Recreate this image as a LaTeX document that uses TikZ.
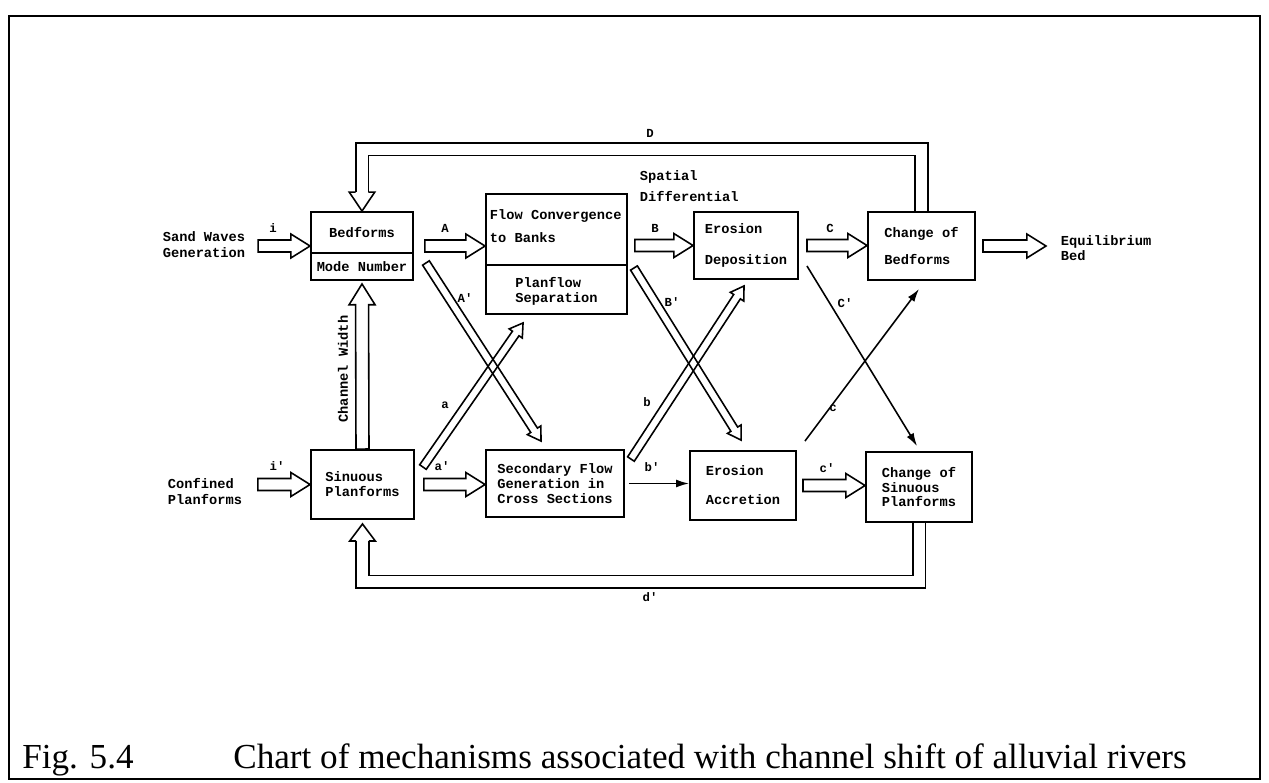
\documentclass[tikz,border=0pt]{standalone}
\usepackage{fontspec}
\setmainfont{Liberation Serif}
\setmonofont{Liberation Mono}
\usetikzlibrary{arrows.meta,calc}

\newcommand\chartfont{\ttfamily\bfseries\fontsize{7.8}{8.5}\selectfont}
\newcommand\tagfont{\ttfamily\bfseries\fontsize{7}{8}\selectfont}
\newcommand\figfont{\fontsize{20}{24}\selectfont}

% wide open arrow from #2 to #3, #1 = half width of the shaft
\newcommand\hollowarrow[3][1.2mm]{%
  \path (#2) coordinate (ha0) (#3) coordinate (ha1);
  \path ($(ha1)!{3.2*#1}!(ha0)$) coordinate (hab);
  \draw[hollow] ($(ha0)!#1!90:(ha1)$) -- ($(hab)!#1!-90:(ha0)$)
    -- ($(hab)!{2*#1}!-90:(ha0)$) -- (ha1) -- ($(hab)!{2*#1}!90:(ha0)$)
    -- ($(hab)!#1!90:(ha0)$) -- ($(ha0)!#1!-90:(ha1)$) -- cycle;
}

\begin{document}
\begin{tikzpicture}
[ x=0.02cm, y=-0.02cm, line join=miter
, box/.style={rectangle, draw, line width=1.1pt, align=left, inner sep=0pt, font=\chartfont}
, txt/.style={align=left, font=\chartfont, inner sep=2.6pt}
, tag/.style={font=\tagfont, inner sep=1pt}
, hollow/.style={draw, line width=0.9pt}
, feedback/.style={draw, double, line width=0.9pt, double distance=2.2mm}
, thinarrow/.style={line width=0.9pt, -{Latex[length=2.6mm,width=1.6mm]}}
]
\useasboundingbox (0,0) rectangle (1269,782);
\draw[line width=1.4pt] (9,16) rectangle (1260,779);

% upper row
\node[box, minimum width=2.04cm, minimum height=1.36cm] (bed) at (362,246) {};
\node[box, minimum width=2.82cm, minimum height=2.4cm] (flow) at (556.5,254) {};
\node[box, minimum width=2.08cm, minimum height=1.34cm] (edp) at (746,245.5) {Erosion\\[9pt]Deposition};
\node[box, minimum width=2.14cm, minimum height=1.36cm] (chb) at (921.5,246) {Change of\\[6.5pt]Bedforms};
\draw[line width=1.1pt] ($(bed.north west)!0.6!(bed.south west)$) -- ($(bed.north east)!0.6!(bed.south east)$);
\draw[line width=1.1pt] ($(flow.north west)!0.59!(flow.south west)$) -- ($(flow.north east)!0.59!(flow.south east)$);
\node[txt] (bedup) at ($(bed.north)!0.3!(bed.south)$) {Bedforms};
\node[txt] (bedlow) at ($(bed.north)!0.8!(bed.south)$) {Mode Number};
\node[txt, anchor=west] (flowup) at ($(flow.north west)!0.27!(flow.south west)$) {Flow Convergence\\[4.5pt]to Banks};
\node[txt] (flowlow) at ($(flow.north)!0.81!(flow.south)$) {Planflow\\Separation};

% lower row
\node[box, minimum width=2.06cm, minimum height=1.38cm] (sin) at (362.5,484.5) {Sinuous\\Planforms};
\node[box, minimum width=2.76cm, minimum height=1.34cm] (sec) at (555,483.5) {Secondary Flow\\Generation in\\Cross Sections};
\node[box, minimum width=2.12cm, minimum height=1.38cm] (eac) at (743,485.5) {Erosion\\[8pt]Accretion};
\node[box, minimum width=2.12cm, minimum height=1.4cm] (chs) at (919,487) {Change of\\Sinuous\\Planforms};

% free texts
\node[txt] (sand) at (204,245) {Sand Waves\\[0.6pt]Generation};
\node[txt] (conf) at (205,491) {Confined\\[0.6pt]Planforms};
\node[txt, anchor=west] (eqb) at (1056,248) {Equilibrium\\Bed};
\node[txt, anchor=west] (spatial) at (635,186.5) {Spatial\\[3.5pt]Differential};
\node[txt, rotate=90] (chw) at (343,369) {Channel Width};

% horizontal arrows
\hollowarrow{[shift={(8,0)}]sand.east |- bed.west}{bed.west}
\hollowarrow{[shift={(11,0)}]bed.east}{flow.west |- bed.east}
\hollowarrow{[shift={(7,0)}]flow.east |- edp.west}{edp.west}
\hollowarrow{[shift={(8,0)}]edp.east}{chb.west |- edp.east}
\hollowarrow{[shift={(7,0)}]chb.east}{[shift={(-10,0)}]eqb.west |- chb.east}
\hollowarrow{[shift={(11,0)}]conf.east |- sin.west}{sin.west}
\hollowarrow{[shift={(9,0)}]sin.east}{sec.west |- sin.east}
\draw[thinarrow] ([shift={(4,0)}]sec.east) -- (eac.west |- sec.east);
\hollowarrow{[shift={(6,0)}]eac.east}{chs.west |- eac.east}

% crossing arrows
\hollowarrow[0.8mm]{[shift={(12,-18)}]bed.south east}{[shift={(56,-8)}]sec.north west}
\hollowarrow[0.8mm]{[shift={(8,18)}]sin.north east}{[shift={(38,8)}]flow.south west}
\hollowarrow[0.8mm]{[shift={(6,14)}]flow.east}{[shift={(52,-10)}]eac.north west}
\hollowarrow[0.8mm]{[shift={(6,10)}]sec.north east}{[shift={(51,6)}]edp.south west}
\draw[thinarrow] ([shift={(8,-14)}]edp.south east) -- ([shift={(52,-5)}]chs.north west);
\draw[thinarrow] ([shift={(8,-9)}]eac.north east) -- ([shift={(52,8)}]chb.south west);
\hollowarrow[1.3mm]{sin.north}{[shift={(0,3)}]bed.south}

% feedback loops
\draw[feedback] (chb.north) -- ++(0,-62) -| ([yshift=3.8mm]bed.north);
\draw[hollow] ([shift={(-1.26mm,3.8mm)}]bed.north) -- ++(-1.3mm,0) -- (bed.north)
  -- ([shift={(2.56mm,3.8mm)}]bed.north) -- ++(-1.3mm,0);
\draw[feedback] (chs.south) -- ++(0,59) -| ([shift={(0,21)}]sin.south);
\draw[hollow] ([shift={(-1.26mm,0)},shift={(0,21)}]sin.south) -- ++(-1.3mm,0) -- ([shift={(0,4)}]sin.south)
  -- ([shift={(2.56mm,0)},shift={(0,21)}]sin.south) -- ++(-1.3mm,0);

% arrow tags
\node[tag] (ti) at (273,228) {i};
\node[tag] (tii) at (277,466) {i'};
\node[tag] (tA) at (445,228) {A};
\node[tag] (tAA) at (465,298) {A'};
\node[tag] (tB) at (655,228) {B};
\node[tag] (tBB) at (672,302) {B'};
\node[tag] (tC) at (830,228) {C};
\node[tag] (tCC) at (845,303) {C'};
\node[tag] (ta) at (445,405) {a};
\node[tag] (taa) at (442,466) {a'};
\node[tag] (tb) at (647,402) {b};
\node[tag] (tbb) at (652,467) {b'};
\node[tag] (tc) at (833,408) {c};
\node[tag] (tcc) at (827,468) {c'};
\node[tag] (tD) at (650,133) {D};
\node[tag] (tdd) at (650,597) {d'};

% caption
\node[anchor=base west, font=\figfont, inner sep=0pt] (fignum) at (22,768) {Fig. 5.4};
\node[anchor=base west, font=\figfont, inner sep=0pt] (figtext) at (233,768) {Chart of mechanisms associated with channel shift of alluvial rivers};
\end{tikzpicture}
\end{document}
